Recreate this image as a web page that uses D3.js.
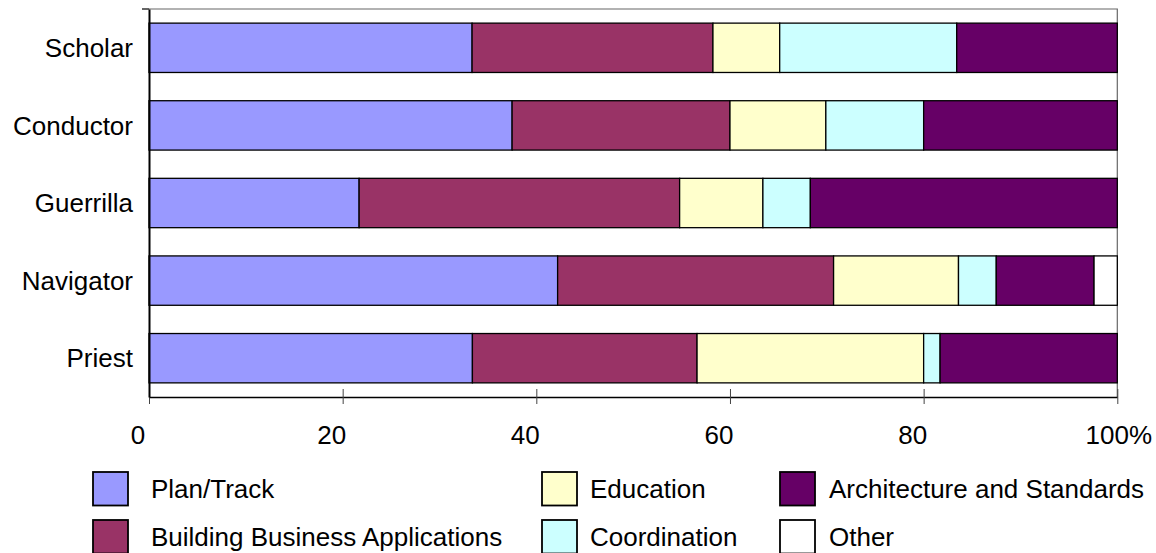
<!DOCTYPE html>
<html>
<head>
<meta charset="utf-8">
<script src="https://cdn.jsdelivr.net/npm/d3@7"></script>
<style>
  html, body { margin: 0; padding: 0; background: #fff; }
  svg { display: block; }
  text { font-family: Arial, "Liberation Sans", sans-serif; fill: #000; }
</style>
</head>
<body>
<svg id="chart" width="1156" height="553"></svg>
<script>
// ---- data ----
const categories = ["Scholar", "Conductor", "Guerrilla", "Navigator", "Priest"];
const seriesNames = ["Plan/Track", "Building Business Applications", "Education",
                     "Coordination", "Architecture and Standards", "Other"];
const planTrack    = [33.4, 37.5, 21.7, 42.2, 33.4];
const buildingApps = [24.9, 22.5, 33.1, 28.5, 23.2];
const education    = [6.9, 9.9, 8.6, 12.9, 23.4];
const coordination = [18.3, 10.1, 4.9, 3.9, 1.7];
const architecture = [16.6, 20.0, 31.7, 10.1, 18.3];
const other        = [0, 0, 0, 2.4, 0];
const xTickValues  = [0, 0.2, 0.4, 0.6, 0.8, 1];
const xTickLabels  = ["0", "20", "40", "60", "80", "100%"];
const colors = ["#9999FF", "#993366", "#FFFFCC", "#CCFFFF", "#660066", "#FFFFFF"];

const seriesValues = [planTrack, buildingApps, education, coordination, architecture, other];
const rows = categories.map((c, i) => {
  const r = { category: c };
  seriesNames.forEach((s, j) => r[s] = seriesValues[j][i]);
  return r;
});

// ---- layout ----
const plot = { left: 149, right: 1117.3, top: 9, bottom: 397 };
const fontSize = 26;

const svg = d3.select("#chart");

const x = d3.scaleLinear().domain([0, 1]).range([plot.left, plot.right]);
const y = d3.scaleBand().domain(categories).range([plot.top, plot.bottom])
  .paddingInner(0.364).paddingOuter(0.182);

const stack = d3.stack().keys(seriesNames).offset(d3.stackOffsetExpand);
const stacked = stack(rows);

// plot area border (top & right)
svg.append("path")
  .attr("d", `M${plot.left},${plot.top}H${plot.right}V${plot.bottom}`)
  .attr("fill", "none").attr("stroke", "#666").attr("stroke-width", 1.2);

// bars
const g = svg.append("g");
stacked.forEach((layer, j) => {
  g.selectAll(null).data(layer.filter(d => d[1] - d[0] > 0)).enter().append("rect")
    .attr("x", d => x(d[0]))
    .attr("y", d => y(d.data.category))
    .attr("width", d => x(d[1]) - x(d[0]))
    .attr("height", y.bandwidth())
    .attr("fill", colors[j])
    .attr("stroke", "#000")
    .attr("stroke-width", 1.3);
});

// x axis
const xAxis = d3.axisBottom(x).tickValues(xTickValues)
  .tickSizeInner(7).tickSizeOuter(0).tickFormat((d, i) => xTickLabels[i]);
const xg = svg.append("g").attr("transform", `translate(0,${plot.bottom})`).call(xAxis);
xg.select(".domain").attr("stroke", "#000").attr("stroke-width", 1.5);
xg.selectAll(".tick line").attr("stroke", "#444").attr("stroke-width", 1).attr("y1", -8);
xg.selectAll(".tick text")
  .attr("y", 47).attr("dy", 0)
  .attr("dx", (d, i) => xTickLabels[i].endsWith("%") ? 1 : -11.5)
  .style("font-size", fontSize + "px")
  .style("font-family", "Arial, 'Liberation Sans', sans-serif")
  .attr("fill", "#000");

// y axis
const yAxis = d3.axisLeft(y).tickSize(0).tickPadding(16);
const yg = svg.append("g").attr("transform", `translate(${plot.left},0)`).call(yAxis);
yg.select(".domain").attr("stroke", "#000").attr("stroke-width", 2);
yg.selectAll(".tick text")
  .attr("dy", "0.35em")
  .style("font-size", fontSize + "px")
  .style("font-family", "Arial, 'Liberation Sans', sans-serif")
  .attr("fill", "#000");
// small tick at top of the category axis
yg.append("line").attr("x1", -7).attr("x2", 0).attr("y1", plot.top).attr("y2", plot.top)
  .attr("stroke", "#000").attr("stroke-width", 1.2);

// legend (column-major, 2 rows x 3 columns)
const legendCols = [{ sx: 93, tx: 151 }, { sx: 542, tx: 590 }, { sx: 780, tx: 829 }];
const legendRows = [472, 520];
const sw = 35, sh = 33.5;
const legend = svg.append("g");
seriesNames.forEach((name, i) => {
  const col = legendCols[Math.floor(i / 2)];
  const top = legendRows[i % 2];
  legend.append("rect")
    .attr("x", col.sx).attr("y", top).attr("width", sw).attr("height", sh)
    .attr("fill", colors[i]).attr("stroke", "#000").attr("stroke-width", 1.8);
  legend.append("text")
    .attr("x", col.tx).attr("y", top + sh / 2 + 9.5)
    .style("font-size", fontSize + "px")
    .text(name);
});
</script>
</body>
</html>
